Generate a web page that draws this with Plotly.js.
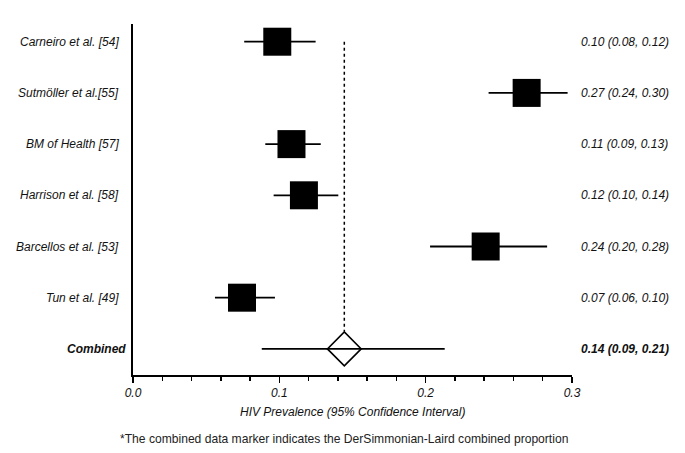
<!DOCTYPE html>
<html>
<head>
<meta charset="utf-8">
<script src="https://cdn.plot.ly/plotly-3.0.1.min.js"></script>
<style>html,body{margin:0;padding:0;background:#fff}#chart{width:685px;height:453px}</style>
</head>
<body>
<div id="chart"></div>
<script>
// ---- data ----
const studies = ['Carneiro et al. [54]', 'Sutmöller et al.[55]', 'BM of Health [57]', 'Harrison et al. [58]', 'Barcellos et al. [53]', 'Tun et al. [49]'];
const estimates = [0.0986, 0.269, 0.1083, 0.1168, 0.241, 0.0745];
const lower = [0.076, 0.243, 0.0904, 0.0961, 0.203, 0.056];
const upper = [0.1248, 0.297, 0.1283, 0.1403, 0.283, 0.097];
const estLabels = ['0.10 (0.08, 0.12)', '0.27 (0.24, 0.30)', '0.11 (0.09, 0.13)', '0.12 (0.10, 0.14)', '0.24 (0.20, 0.28)', '0.07 (0.06, 0.10)'];
const combinedName = 'Combined';
const combinedEst = 0.1444;
const combinedLower = 0.088;
const combinedUpper = 0.213;
const combinedLabel = '0.14 (0.09, 0.21)';
const xTitle = 'HIV Prevalence (95% Confidence Interval)';
const footnote = '*The combined data marker indicates the DerSimmonian-Laird combined proportion';

// ---- build ----
const rows = studies.map((_, i) => i);
const combinedRow = studies.length;
const txt = '#111';
const font = {family: 'Liberation Sans, Arial, sans-serif', size: 12, color: txt};

const studyTrace = {
  type: 'scatter', mode: 'markers',
  x: estimates, y: rows,
  marker: {symbol: 'square', size: 28, color: '#000', line: {width: 0}},
  error_x: {type: 'data', symmetric: false,
    array: estimates.map((e, i) => upper[i] - e),
    arrayminus: estimates.map((e, i) => e - lower[i]),
    thickness: 1.8, width: 0, color: '#000'},
  hoverinfo: 'skip', showlegend: false
};
const combTrace = {
  type: 'scatter', mode: 'markers',
  x: [combinedEst], y: [combinedRow],
  marker: {symbol: 'diamond-open', size: 26, color: '#000', line: {width: 1.6, color: '#000'}},
  error_x: {type: 'data', symmetric: false,
    array: [combinedUpper - combinedEst], arrayminus: [combinedEst - combinedLower],
    thickness: 1.8, width: 0, color: '#000'},
  hoverinfo: 'skip', showlegend: false
};

const annotations = [];
studies.forEach((s, i) => {
  annotations.push({xref: 'paper', yref: 'y', x: -0.027, y: i, xanchor: 'right', yanchor: 'middle',
    text: '<i>' + s + '</i>', showarrow: false, font: font});
  annotations.push({xref: 'paper', yref: 'y', x: 1.016, y: i, xanchor: 'left', yanchor: 'middle',
    text: '<i>' + estLabels[i] + '</i>', showarrow: false, font: font});
});
annotations.push({xref: 'paper', yref: 'y', x: -0.011, y: combinedRow, xanchor: 'right', yanchor: 'middle',
  text: '<b><i>' + combinedName + '</i></b>', showarrow: false, font: font});
annotations.push({xref: 'paper', yref: 'y', x: 1.016, y: combinedRow, xanchor: 'left', yanchor: 'middle',
  text: '<b><i>' + combinedLabel + '</i></b>', showarrow: false, font: font});
annotations.push({xref: 'paper', yref: 'paper', x: 0.5, y: -0.1054, xanchor: 'center', yanchor: 'middle',
  text: '<i>' + xTitle + '</i>', showarrow: false, font: font});
annotations.push({xref: 'paper', yref: 'paper', x: 0.48, y: -0.1823, xanchor: 'center', yanchor: 'middle',
  text: footnote, showarrow: false, font: {family: font.family, size: 12.1, color: '#222'}});

const layout = {
  width: 685, height: 453,
  margin: {l: 133, r: 113, t: 24, b: 78},
  paper_bgcolor: '#fff', plot_bgcolor: '#fff',
  font: font,
  xaxis: {range: [0, 0.3], dtick: 0.1, tick0: 0, tickformat: '.1f',
    showgrid: false, zeroline: false, showline: true, linewidth: 2, linecolor: '#000',
    ticks: 'outside', ticklen: 6, tickwidth: 1.5, tickcolor: '#000',
    tickfont: {family: font.family, size: 12, color: txt, style: 'italic'},
    minor: {dtick: 0.02, ticks: 'outside', ticklen: 4, tickwidth: 1.5, tickcolor: '#000', showgrid: false},
    fixedrange: true},
  yaxis: {range: [combinedRow + 0.51, -0.346], showgrid: false, zeroline: false,
    showline: true, linewidth: 2, linecolor: '#000', showticklabels: false, ticks: '', fixedrange: true},
  shapes: [{type: 'line', xref: 'x', yref: 'y', x0: combinedEst, x1: combinedEst,
    y0: 0, y1: combinedRow - 0.34, line: {color: '#000', width: 1.5, dash: 'dot'}, layer: 'below'}],
  annotations: annotations,
  showlegend: false
};

Plotly.newPlot('chart', [combTrace, studyTrace], layout, {displayModeBar: false, staticPlot: true});
</script>
</body>
</html>
